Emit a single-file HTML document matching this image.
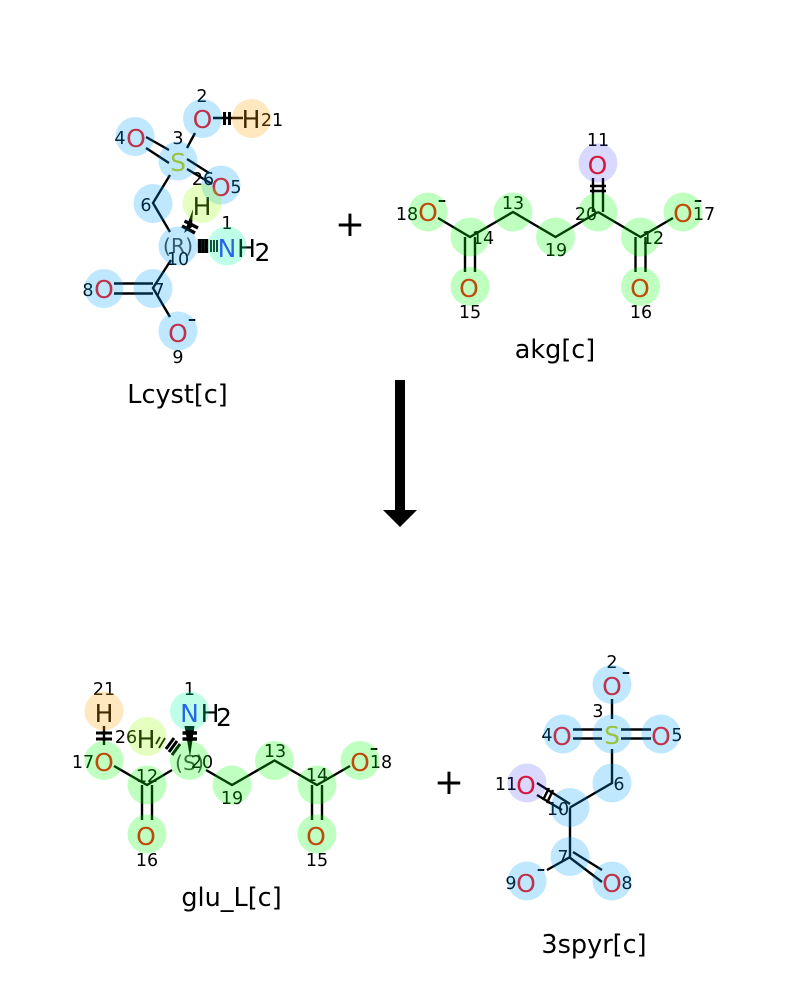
<!DOCTYPE html>
<html><head><meta charset="utf-8"><style>
html,body{margin:0;padding:0;background:#fff}
svg{display:block}
text{font-family:"DejaVu Sans","Liberation Sans",sans-serif;text-anchor:middle}
.a{font-size:25px}.n{font-size:17.5px;fill:#000}.c{font-size:25.500px;fill:#000}
.O{fill:#ff0d0d}.S{fill:#cccc00}.N{fill:#3333ff}.H{fill:#000}.q{font-size:20.500px;fill:#444}
.l{stroke:#000;stroke-width:2.4;fill:none}
.t{stroke:#000;fill:none}
.b{fill:#00a3ff;fill-opacity:.25}.g{fill:#00ff00;fill-opacity:.25}.v{fill:#4040ff;fill-opacity:.2}
.p{fill:#ffa300;fill-opacity:.25}.y{fill:#92ff00;fill-opacity:.25}.w{fill:#00ffa3;fill-opacity:.25}
</style></head><body>
<svg width="800" height="1000" viewBox="0 0 800 1000" xmlns="http://www.w3.org/2000/svg">
<rect width="800" height="1000" fill="#fff"/>

<!-- Lcyst -->
<path class="l" d="M213 118H243M195 133L187 148M146 137L169 150M146 148L169 163M187 159L209 173M187 169L212 184M170 175L153 203L170 232M171 260L153 288L170 317M114 283.5H153M114 293.5H153"/>
<path class="t" stroke-width="3" d="M224.500 112V125M229.500 112V125"/>
<path d="M193 209L184 233L192 227Z" fill="#000"/>
<path class="t" stroke-width="3.500" d="M184.500 221L198 228M182 226L195 233"/>
<path class="t" stroke-width="3.400" d="M199.500 239V253M203 239V253M206.500 239V253"/>
<path class="t" stroke-width="1.800" d="M211 240V252M214 240V252M217 240V252"/>
<text class="a O" x="202.500" y="128">O</text><text class="a H" x="251" y="128">H</text>
<text class="a O" x="136" y="147">O</text><text class="a S" x="178" y="171">S</text>
<text class="a O" x="221" y="196">O</text><text class="a H" x="202" y="215">H</text>
<text class="q" x="178" y="253">(R)</text>
<text class="a N" x="227" y="257">N</text>
<text class="a H" x="246.500" y="257">H</text><text class="a H" x="262.500" y="261">2</text>
<text class="a O" x="104" y="298">O</text><text class="a O" x="178" y="342">O</text>
<text class="a H" x="192" y="327">-</text>
<text class="n" x="202" y="102">2</text><text class="n" x="272" y="126">21</text>
<text class="n" x="178" y="144">3</text><text class="n" x="120" y="144">4</text>
<text class="n" x="236" y="193">5</text><text class="n" x="203" y="185">26</text>
<text class="n" x="146" y="211">6</text><text class="n" x="227" y="229">1</text>
<text class="n" x="178" y="265">10</text><text class="n" x="159" y="296">7</text>
<text class="n" x="88" y="296">8</text><text class="n" x="178" y="363">9</text>
<g>
<circle class="b" cx="202.500" cy="118.500" r="19.500"/><circle class="p" cx="251.500" cy="118.500" r="19.500"/>
<circle class="b" cx="135" cy="136.500" r="19.500"/><circle class="b" cx="178" cy="161" r="19.500"/>
<circle class="b" cx="221" cy="185" r="19.500"/><circle class="b" cx="153" cy="203.500" r="19.500"/>
<circle class="y" cx="202" cy="203.500" r="19.500"/><circle class="b" cx="178" cy="246" r="19.500"/>
<circle class="w" cx="227" cy="246" r="19.500"/><circle class="b" cx="153" cy="288.500" r="19.500"/>
<circle class="b" cx="104" cy="288.500" r="19.500"/><circle class="b" cx="178" cy="331" r="19.500"/>
</g>
<text class="c" x="177.500" y="403">Lcyst[c]</text>

<text x="350" y="236" style="font-size:36px">+</text>

<!-- akg -->
<path class="l" d="M593 178V212M603 178V212M598 212L640.500 237L673 218M438 218L470 237L513 212L555.500 237L598 212M465 237V272M475 237V272M635.500 237V272M645.500 237V272"/>
<path class="t" stroke-width="2.500" d="M590 186H606M590 191H606"/>
<text class="a O" x="597.500" y="174">O</text><text class="a O" x="428" y="221">O</text>
<text class="a O" x="683" y="222">O</text><text class="a O" x="469" y="297">O</text><text class="a O" x="640" y="297">O</text>
<text class="a H" x="442" y="208">-</text><text class="a H" x="698" y="208">-</text>
<text class="n" x="598" y="146">11</text><text class="n" x="407" y="220">18</text><text class="n" x="513" y="209">13</text>
<text class="n" x="483" y="244">14</text><text class="n" x="556" y="256">19</text><text class="n" x="586" y="220">20</text>
<text class="n" x="653" y="244">12</text><text class="n" x="704" y="220">17</text><text class="n" x="470" y="318">15</text><text class="n" x="641" y="318">16</text>
<circle class="v" cx="598" cy="163" r="19.500"/><circle class="g" cx="598" cy="212" r="19.500"/>
<circle class="g" cx="428" cy="212" r="19.500"/><circle class="g" cx="470" cy="237" r="19.500"/>
<circle class="g" cx="513" cy="212" r="19.500"/><circle class="g" cx="555.500" cy="237" r="19.500"/>
<circle class="g" cx="640.500" cy="237" r="19.500"/><circle class="g" cx="683" cy="212" r="19.500"/>
<circle class="g" cx="470" cy="286.500" r="19.500"/><circle class="g" cx="640.500" cy="286.500" r="19.500"/>
<text class="c" x="555" y="358">akg[c]</text>

<!-- arrow -->
<path d="M395 380H405V510H417L400 527L383 510H395Z" fill="#000"/>

<!-- glu -->
<path class="l" d="M104 726V745M114 766L147 785L172 770M142 785V820M152 785V820M206 770L232 785L274.500 760.500L317 785L350 766M312 785V820M322 785V820"/>
<path class="t" stroke-width="3" d="M96 733H112M96 739H112"/>
<path d="M184.500 726H194.500L190 757Z" fill="#000"/>
<path class="t" stroke-width="3.500" d="M182.500 733H197M182.500 739H197"/>
<path class="t" stroke-width="3" d="M166 749L174 738M169 752L177 741M172 755L180 744"/>
<path class="t" stroke-width="1.800" d="M156 744L160 737M159 748L165 738"/>
<text class="a O" x="104" y="771">O</text><text class="a H" x="104" y="722">H</text>
<text class="a N" x="189.500" y="722">N</text><text class="a H" x="210" y="722">H</text><text class="a H" x="224" y="726">2</text>
<text class="a H" x="146" y="748">H</text><text class="q" x="189.500" y="770">(S)</text>
<text class="a O" x="146" y="845">O</text><text class="a O" x="316" y="845">O</text><text class="a O" x="360" y="771">O</text>
<text class="a H" x="374" y="756">-</text>
<text class="n" x="104" y="695">21</text><text class="n" x="189.500" y="695">1</text><text class="n" x="126" y="743">26</text>
<text class="n" x="83" y="768">17</text><text class="n" x="147" y="782">12</text><text class="n" x="202" y="768">20</text>
<text class="n" x="232" y="804">19</text><text class="n" x="275" y="757">13</text><text class="n" x="317" y="781">14</text>
<text class="n" x="381" y="768">18</text><text class="n" x="147" y="866">16</text><text class="n" x="317" y="866">15</text>
<circle class="p" cx="104" cy="711" r="19.500"/><circle class="w" cx="189.500" cy="711" r="19.500"/>
<circle class="y" cx="147" cy="736.500" r="19.500"/><circle class="g" cx="104" cy="760.500" r="19.500"/>
<circle class="g" cx="189.500" cy="760.500" r="19.500"/><circle class="g" cx="274.500" cy="760.500" r="19.500"/>
<circle class="g" cx="360" cy="760.500" r="19.500"/><circle class="g" cx="147" cy="785" r="19.500"/>
<circle class="g" cx="232" cy="785" r="19.500"/><circle class="g" cx="317" cy="785" r="19.500"/>
<circle class="g" cx="147" cy="834" r="19.500"/><circle class="g" cx="317" cy="834" r="19.500"/>
<text class="c" x="231.500" y="906">glu_L[c]</text>

<text x="449" y="794" style="font-size:36px">+</text>

<!-- 3spyr -->
<path class="l" d="M612 699V719M573 729.500H602M573 738.500H602M621 729.500H651M621 738.500H651M612 749V783L570 807.500M537 783L570 804M537 795L562 810M570 807.500V857L547 870M573 852L602 870M569 857L602 882"/>
<path class="t" stroke-width="2.500" d="M549 788L543 800M553 790L547 803"/>
<text class="a O" x="612" y="695">O</text><text class="a O" x="562" y="745">O</text>
<text class="a S" x="612" y="744">S</text><text class="a O" x="661" y="745">O</text>
<text class="a O" x="526" y="794">O</text><text class="a O" x="526" y="892">O</text><text class="a O" x="612" y="892">O</text>
<text class="a H" x="626" y="680">-</text><text class="a H" x="541" y="877">-</text>
<text class="n" x="612" y="668">2</text><text class="n" x="598" y="717">3</text><text class="n" x="547" y="741">4</text>
<text class="n" x="677" y="741">5</text><text class="n" x="619" y="790">6</text><text class="n" x="506" y="790">11</text>
<text class="n" x="558" y="815">10</text><text class="n" x="563" y="863">7</text><text class="n" x="511" y="889">9</text><text class="n" x="627" y="889">8</text>
<circle class="b" cx="612" cy="684.500" r="19.500"/><circle class="b" cx="563" cy="734" r="19.500"/>
<circle class="b" cx="612" cy="734" r="19.500"/><circle class="b" cx="661" cy="734" r="19.500"/>
<circle class="b" cx="612" cy="783" r="19.500"/><circle class="v" cx="527" cy="783" r="19.500"/>
<circle class="b" cx="570" cy="807.500" r="19.500"/><circle class="b" cx="570" cy="856.500" r="19.500"/>
<circle class="b" cx="527" cy="881" r="19.500"/><circle class="b" cx="612" cy="881" r="19.500"/>
<text class="c" x="594" y="953">3spyr[c]</text>
</svg>
</body></html>
